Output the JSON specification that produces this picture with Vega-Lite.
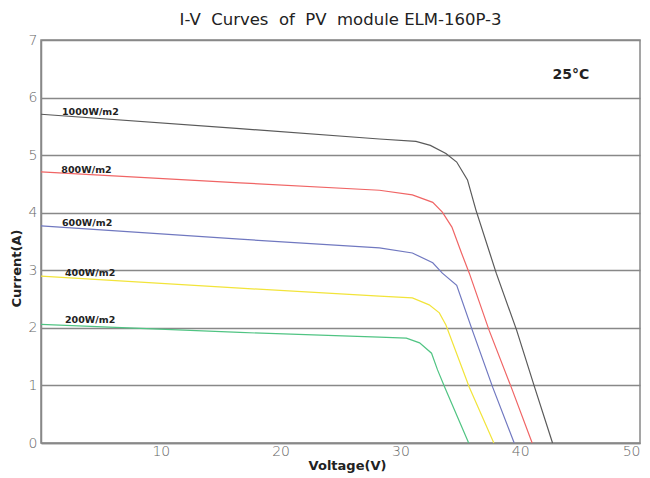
{
  "$schema": "https://vega.github.io/schema/vega-lite/v6.json",
  "width": 599,
  "height": 403,
  "autosize": {"type": "none"},
  "padding": {"left": 41, "top": 40, "right": 10, "bottom": 35},
  "background": "white",
  "title": {
    "text": "I-V\u00a0 Curves\u00a0 of\u00a0 PV\u00a0 module ELM-160P-3",
    "fontSize": 16.5,
    "font": "DejaVu Sans",
    "fontWeight": "normal",
    "color": "#222222",
    "anchor": "middle",
    "baseline": "alphabetic",
    "offset": -8
  },
  "config": {
    "view": {"stroke": "#888888", "strokeWidth": 1.5},
    "axis": {
      "labelFont": "DejaVu Sans",
      "labelFontSize": 14,
      "labelFontWeight": 200,
      "labelColor": "#666666",
      "titleFont": "DejaVu Sans",
      "titleFontSize": 13,
      "titleFontWeight": "bold",
      "titleColor": "#222222",
      "domainColor": "#888888",
      "domainWidth": 1.5,
      "ticks": false
    }
  },
  "datasets": {
    "curves": [
      {"s": "1000", "V": 0, "I": 5.71}, {"s": "1000", "V": 16.6, "I": 5.46}, {"s": "1000", "V": 28.25, "I": 5.28},
      {"s": "1000", "V": 31.3, "I": 5.24}, {"s": "1000", "V": 32.5, "I": 5.17}, {"s": "1000", "V": 33.8, "I": 5.03},
      {"s": "1000", "V": 34.7, "I": 4.88}, {"s": "1000", "V": 35.6, "I": 4.57}, {"s": "1000", "V": 36.3, "I": 4.05},
      {"s": "1000", "V": 38.0, "I": 2.95}, {"s": "1000", "V": 39.7, "I": 1.96}, {"s": "1000", "V": 41.2, "I": 0.97},
      {"s": "1000", "V": 42.7, "I": 0},
      {"s": "800", "V": 0, "I": 4.71}, {"s": "800", "V": 16.6, "I": 4.52}, {"s": "800", "V": 28.25, "I": 4.39},
      {"s": "800", "V": 31.0, "I": 4.31}, {"s": "800", "V": 32.7, "I": 4.18}, {"s": "800", "V": 33.5, "I": 4.01},
      {"s": "800", "V": 34.3, "I": 3.75}, {"s": "800", "V": 35.1, "I": 3.30}, {"s": "800", "V": 35.75, "I": 2.95},
      {"s": "800", "V": 37.4, "I": 1.96}, {"s": "800", "V": 39.25, "I": 0.97}, {"s": "800", "V": 41.0, "I": 0},
      {"s": "600", "V": 0, "I": 3.77}, {"s": "600", "V": 16.6, "I": 3.54}, {"s": "600", "V": 28.25, "I": 3.39},
      {"s": "600", "V": 31.0, "I": 3.30}, {"s": "600", "V": 32.7, "I": 3.13}, {"s": "600", "V": 33.5, "I": 2.95},
      {"s": "600", "V": 34.7, "I": 2.74}, {"s": "600", "V": 36.0, "I": 1.96}, {"s": "600", "V": 37.7, "I": 0.97},
      {"s": "600", "V": 39.5, "I": 0},
      {"s": "400", "V": 0, "I": 2.90}, {"s": "400", "V": 16.6, "I": 2.69}, {"s": "400", "V": 28.25, "I": 2.55},
      {"s": "400", "V": 31.0, "I": 2.52}, {"s": "400", "V": 32.4, "I": 2.40}, {"s": "400", "V": 33.25, "I": 2.26},
      {"s": "400", "V": 33.8, "I": 2.05}, {"s": "400", "V": 35.75, "I": 0.97}, {"s": "400", "V": 37.8, "I": 0},
      {"s": "200", "V": 0, "I": 2.06}, {"s": "200", "V": 16.6, "I": 1.92}, {"s": "200", "V": 28.25, "I": 1.84},
      {"s": "200", "V": 30.5, "I": 1.82}, {"s": "200", "V": 31.6, "I": 1.74}, {"s": "200", "V": 32.6, "I": 1.56},
      {"s": "200", "V": 33.1, "I": 1.27}, {"s": "200", "V": 33.7, "I": 0.97}, {"s": "200", "V": 35.7, "I": 0}
    ],
    "labels": [
      {"t": "1000W/m2", "V": 1.75, "I": 5.75},
      {"t": "800W/m2", "V": 1.7, "I": 4.74},
      {"t": "600W/m2", "V": 1.75, "I": 3.82},
      {"t": "400W/m2", "V": 2.0, "I": 2.95},
      {"t": "200W/m2", "V": 2.0, "I": 2.13}
    ],
    "temp": [
      {"t": "25°C", "V": 42.7, "I": 6.39}
    ]
  },
  "layer": [
    {
      "data": {"name": "curves"},
      "mark": {"type": "line", "strokeWidth": 1.2},
      "encoding": {
        "x": {
          "field": "V", "type": "quantitative",
          "scale": {"domain": [0, 50], "nice": false},
          "axis": {"values": [10, 20, 30, 40, 50], "grid": false, "title": "Voltage(V)", "labelPadding": 1, "titlePadding": 1, "titleX": 306}
        },
        "y": {
          "field": "I", "type": "quantitative",
          "scale": {"domain": [0, 7], "nice": false},
          "axis": {"values": [0, 1, 2, 3, 4, 5, 6, 7], "format": "d", "grid": true, "gridColor": "#888888", "gridWidth": 1.5, "gridOpacity": 1, "title": "Current(A)", "labelPadding": 4, "titleX": -18, "titleY": 228}
        },
        "color": {
          "field": "s", "type": "nominal",
          "scale": {"domain": ["1000", "800", "600", "400", "200"], "range": ["#5a5a5a", "#f06565", "#7078c0", "#f2e43a", "#50c483"]},
          "legend": null
        }
      }
    },
    {
      "data": {"name": "labels"},
      "mark": {"type": "text", "align": "left", "baseline": "middle", "font": "DejaVu Sans", "fontSize": 9.5, "fontWeight": "bold", "color": "#222222"},
      "encoding": {
        "x": {"field": "V", "type": "quantitative"},
        "y": {"field": "I", "type": "quantitative"},
        "text": {"field": "t"}
      }
    },
    {
      "data": {"name": "temp"},
      "mark": {"type": "text", "align": "left", "baseline": "middle", "font": "DejaVu Sans", "fontSize": 14, "fontWeight": "bold", "color": "#222222"},
      "encoding": {
        "x": {"field": "V", "type": "quantitative"},
        "y": {"field": "I", "type": "quantitative"},
        "text": {"field": "t"}
      }
    }
  ]
}
